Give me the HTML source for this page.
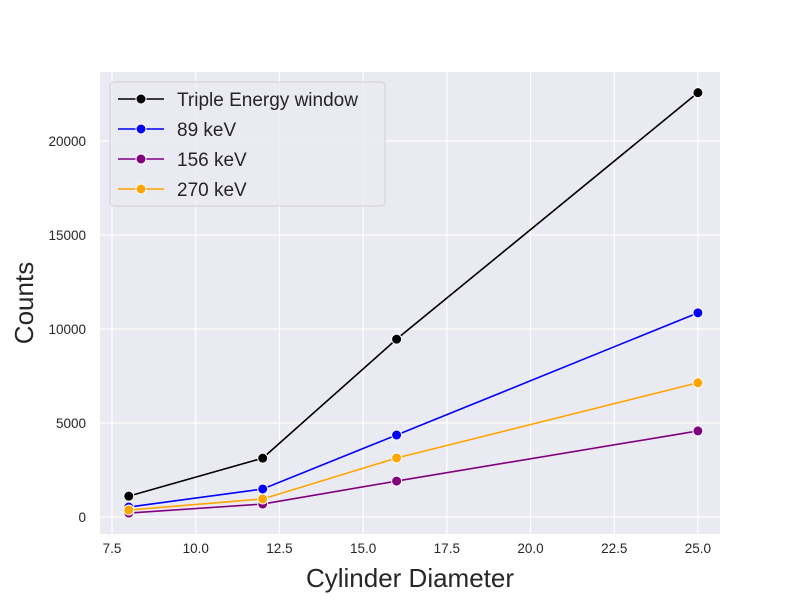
<!DOCTYPE html>
<html><head><meta charset="utf-8"><style>
body{margin:0;background:#fff;}
svg{display:block;font-family:"Liberation Sans","DejaVu Sans",sans-serif;}
</style></head><body>
<svg id="chart" width="800" height="600"></svg>
<script>
const categories=[8,12,16,25];
const seriesNames=["Triple Energy window","89 keV","156 keV","270 keV"];
const tripleValues=[1110,3130,9460,22570];
const kev89Values=[530,1490,4360,10860];
const kev156Values=[210,690,1910,4580];
const kev270Values=[370,960,3140,7140];
const xTicks=[7.5,10.0,12.5,15.0,17.5,20.0,22.5,25.0];
const yTicks=[0,5000,10000,15000,20000];
const colors=["#000000","#0000ff","#800080","#ffa500"];
const allSeries=[tripleValues,kev89Values,kev156Values,kev270Values];

const NS="http://www.w3.org/2000/svg";
const svg=document.getElementById('chart');
const L=100,R=720,T=72,B=534;
const xMin=7.14,xMax=25.66,yMin=-904,yMax=23670;
const xs=v=>L+(v-xMin)/(xMax-xMin)*(R-L);
const ys=v=>B-(v-yMin)/(yMax-yMin)*(B-T);
function mk(tag,attrs,parent){const e=document.createElementNS(NS,tag);for(const k in attrs)e.setAttribute(k,attrs[k]);(parent||svg).appendChild(e);return e;}

const bg=mk('rect',{x:L,y:T,width:R-L,height:B-T,fill:'#eaeaf2'});



xTicks.forEach(t=>{
  const g=mk('line',{x1:xs(t),x2:xs(t),y1:T,y2:B,stroke:'#fff','stroke-width':1.2});
  
  
  const tx=mk('text',{x:xs(t),y:B+19,'text-anchor':'middle','font-size':13.5,fill:'#262626'});
  tx.textContent=t.toFixed(1);
  
  
});
yTicks.forEach(t=>{
  const g=mk('line',{x1:L,x2:R,y1:ys(t),y2:ys(t),stroke:'#fff','stroke-width':1.2});
  
  
  const tx=mk('text',{x:L-14,y:ys(t)+5,'text-anchor':'end','font-size':13.5,fill:'#262626'});
  tx.textContent=String(t);
  
  
});

allSeries.forEach((vals,i)=>{
  const pts=vals.map((v,j)=>xs(categories[j])+','+ys(v)).join(' ');
  const pl=mk('polyline',{points:pts,fill:'none',stroke:colors[i],'stroke-width':1.6});
  
  
  vals.forEach((v,j)=>{
    const c=mk('circle',{cx:xs(categories[j]),cy:ys(v),r:5,fill:colors[i],stroke:'#fff','stroke-width':1});
    
    
  });
});

const xt=mk('text',{x:410,y:587,'text-anchor':'middle','font-size':26,fill:'#262626'});
xt.textContent='Cylinder Diameter';


const yt=mk('text',{x:33,y:303,'text-anchor':'middle','font-size':26,fill:'#262626',transform:'rotate(-90 33 303)'});
yt.textContent='Counts';



const lg=mk('g',{});


mk('rect',{x:110,y:82,width:275,height:124,rx:4,fill:'#eaeaf2','fill-opacity':0.8,stroke:'#d0d0d0'},lg);
seriesNames.forEach((n,i)=>{
  const y=99+i*30;
  const e=mk('g',{},lg);
  
  
  mk('line',{x1:118,x2:164,y1:y,y2:y,stroke:colors[i],'stroke-width':1.6},e);
  mk('circle',{cx:141,cy:y,r:5,fill:colors[i],stroke:'#fff','stroke-width':1},e);
  const t=mk('text',{x:177,y:y+7,'font-size':19,fill:'#262626'},e);
  t.textContent=n;
});
</script>
</body></html>
